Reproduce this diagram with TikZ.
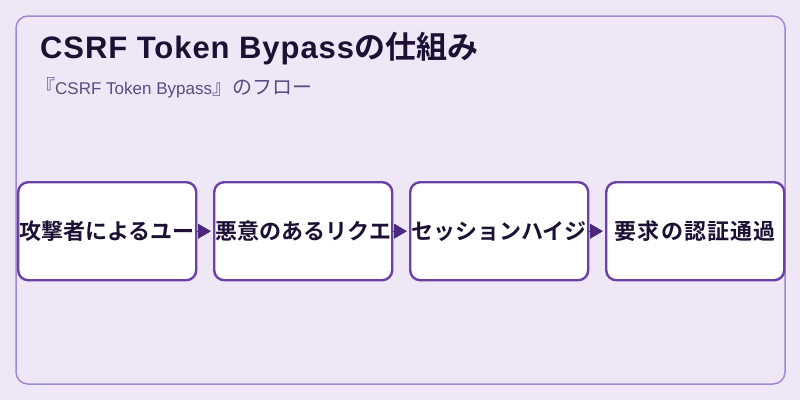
\documentclass[tikz,border=0pt]{standalone}
\usepackage{fontspec}
\usetikzlibrary{arrows.meta}
\newfontfamily\cjkb{Noto Sans CJK JP Bold}
\newfontfamily\cjkr{Noto Sans CJK JP}
\newfontfamily\latr{Liberation Sans}
\newfontfamily\latbs{Liberation Sans Bold}[LetterSpace=3]
\newfontfamily\cjkbs{Noto Sans CJK JP Bold}[LetterSpace=5]
\definecolor{bgc}{HTML}{EDE7F6}
\definecolor{framec}{HTML}{A287D2}
\definecolor{boxc}{HTML}{6A42A6}
\definecolor{arrc}{HTML}{4B2A7E}
\definecolor{txtc}{HTML}{1C1033}
\definecolor{subc}{HTML}{5B4B82}
\begin{document}
\begin{tikzpicture}[x=1pt,y=-1pt,
  stepbox/.style={draw=boxc,line width=2.4pt,fill=white,rounded corners=10pt,
    minimum width=178pt,minimum height=98pt,inner sep=0pt,anchor=north west,
    text=txtc,font=\cjkb\fontsize{22}{24}\selectfont},
  flow/.style={draw=arrc,line width=1pt,-{Triangle[length=13pt,width=15pt]},shorten >=2pt}]
\useasboundingbox (0,0) rectangle (800,400);
\fill[bgc] (0,0) rectangle (800,400);
\draw[framec,line width=1.5pt,rounded corners=12pt] (16,16) rectangle (785,384);
\node[anchor=base west,inner sep=0pt,text=txtc] (title) at (40,58)
  {\fontsize{31}{34}\selectfont\latbs CSRF Token Bypass\cjkb の仕組み};
\node[anchor=base west,inner sep=0pt,text=subc] (sub) at (35,94)
  {\cjkr\fontsize{20}{22}\selectfont 『\latr\fontsize{17}{20}\selectfont CSRF Token Bypass\cjkr\fontsize{20}{22}\selectfont 』のフロー};
\node[stepbox] (b1) at (17,181) {攻撃者によるユー};
\node[stepbox] (b2) at (213,181) {悪意のあるリクエ};
\node[stepbox] (b3) at (409,181) {セッションハイジ};
\node[stepbox,font=\cjkbs\fontsize{22}{24}\selectfont] (b4) at (605,181) {要求の認証通過};
\draw[flow] (b1.east) -- (b2.west);
\draw[flow] (b2.east) -- (b3.west);
\draw[flow] (b3.east) -- (b4.west);
\end{tikzpicture}
\end{document}
